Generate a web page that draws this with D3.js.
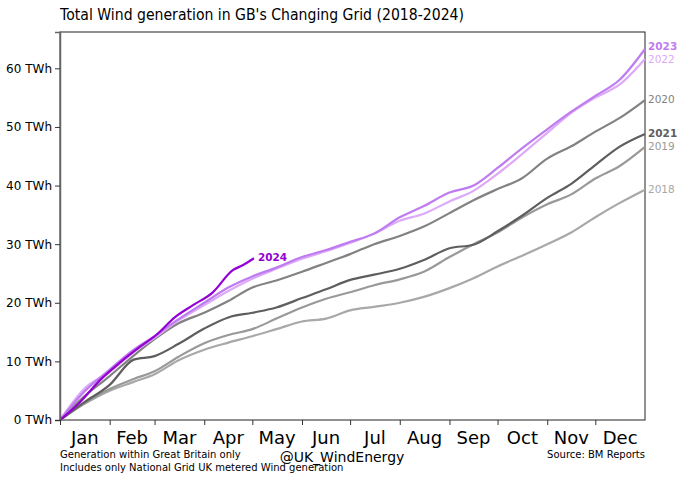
<!DOCTYPE html>
<html><head><meta charset="utf-8">
<script src="https://cdn.jsdelivr.net/npm/d3@7"></script>
<style>body{margin:0;background:#fff}svg{display:block}text{font-family:"DejaVu Sans",sans-serif}</style>
</head><body><svg id="c" width="680" height="479"></svg>
<script>
const months = ["Jan","Feb","Mar","Apr","May","Jun","Jul","Aug","Sep","Oct","Nov","Dec"];
const monthStarts = [0,31,59,90,120,151,181,212,243,273,304,334,365];
const yTicks = [0,10,20,30,40,50,60];
const days = [0,15,31,46,59,74,90,105,120,135,151,166,181,196,212,227,243,258,273,288,304,319,334,349,365];
const y2018 = [0,2.7,5.0,6.5,7.8,10.2,12.0,13.2,14.3,15.5,16.8,17.3,18.7,19.3,20.0,21.0,22.5,24.2,26.2,28.0,30.0,32.0,34.6,37.0,39.3];
const y2019 = [0,2.8,5.3,7.0,8.3,10.8,13.1,14.5,15.5,17.3,19.2,20.7,21.8,23.0,24.0,25.3,27.8,30.0,32.0,34.5,36.8,38.5,41.2,43.3,46.6];
const y2020 = [0,4.0,7.5,11.0,13.8,16.5,18.3,20.3,22.6,23.8,25.3,26.8,28.3,30.0,31.4,33.0,35.3,37.5,39.4,41.2,44.6,46.7,49.2,51.5,54.6];
const y2021 = [0,3.0,6.0,10.3,10.9,13.0,15.6,17.5,18.3,19.2,20.8,22.3,23.9,24.8,25.8,27.3,29.3,29.9,32.2,34.8,37.9,40.3,43.5,46.6,48.8];
const y2022 = [0,5.3,8.2,11.6,14.0,17.0,19.6,22.0,24.1,25.8,27.5,28.8,30.2,31.8,34.0,35.2,37.3,39.1,42.0,45.3,49.0,52.4,55.0,57.2,61.6];
const y2023 = [0,4.8,8.6,12.0,14.3,17.2,20.0,22.6,24.5,26.0,27.8,29.0,30.4,31.8,34.6,36.5,38.8,40.0,43.0,46.3,49.6,52.6,55.3,58.0,63.3];
const days2024 = [0,12,25,37,50,60,72,83,95,108,114,121];
const y2024 = [0,2.9,6.8,9.7,12.5,14.5,17.6,19.6,21.7,25.6,26.4,27.6];

const series = [
  {name:"2018", d:days, v:y2018, color:"#a8a8a8", bold:false, dy:0},
  {name:"2019", d:days, v:y2019, color:"#999999", bold:false, dy:0},
  {name:"2020", d:days, v:y2020, color:"#828282", bold:false, dy:0},
  {name:"2021", d:days, v:y2021, color:"#5e5e5e", bold:true, dy:0},
  {name:"2022", d:days, v:y2022, color:"#dcaaf8", bold:false, dy:1.5},
  {name:"2023", d:days, v:y2023, color:"#bf7cf0", bold:true, dy:-1.5},
  {name:"2024", d:days2024, v:y2024, color:"#9400d3", bold:true, dy:0}
];

const svg = d3.select("#c");
const m = {l:60, r:645, t:32, b:420};
const x = d3.scaleLinear().domain([0,365]).range([m.l,m.r]);
const y = d3.scaleLinear().domain([0,66.2]).range([m.b,m.t]);

svg.append("rect").attr("x",m.l).attr("y",m.t).attr("width",m.r-m.l).attr("height",m.b-m.t)
  .attr("fill","none").attr("stroke","#222").attr("stroke-width",1);

const line = d3.line().x(d=>x(d[0])).y(d=>y(d[1])).curve(d3.curveMonotoneX);
series.forEach(s=>{
  const pts = s.d.map((dd,i)=>[dd,s.v[i]]);
  svg.append("path").datum(pts).attr("d",line).attr("fill","none")
    .attr("stroke",s.color).attr("stroke-width",2.2).attr("stroke-linejoin","round");
});

series.forEach(s=>{
  const last = s.v[s.v.length-1], lastD = s.d[s.d.length-1];
  const isRight = s.name!=="2024";
  svg.append("text").attr("x", isRight ? 648 : x(lastD)+4).attr("y", y(last)+s.dy)
    .attr("dominant-baseline","middle").attr("font-size",10.5)
    .attr("font-weight", s.bold ? "bold" : "normal").attr("fill", s.color)
    .text(s.name);
});

const yAxis = d3.axisLeft(y).tickValues(yTicks).tickFormat(d=>d+" TWh").tickSize(5).tickPadding(3);
const gy = svg.append("g").attr("transform",`translate(${m.l},0)`).call(yAxis);
gy.select(".domain").attr("stroke","#666").attr("stroke-width",1.5);
gy.selectAll("text").attr("font-size",12).attr("fill","#000").style("font-family","DejaVu Sans");
gy.selectAll(".tick line").attr("stroke","#333");

const xAxis = d3.axisBottom(x).tickValues(monthStarts.slice(0,12)).tickFormat("").tickSize(5);
const gx = svg.append("g").attr("transform",`translate(0,${m.b})`).call(xAxis);
gx.select(".domain").remove();
gx.selectAll(".tick line").attr("stroke","#333");
months.forEach((mo,i)=>{
  svg.append("text").attr("x", x((monthStarts[i]+monthStarts[i+1])/2)).attr("y",444)
    .attr("text-anchor","middle").attr("font-size",18).attr("fill","#000").text(mo);
});

svg.append("text").attr("x",60).attr("y",20).attr("font-size",15).attr("fill","#000")
  .attr("textLength",404).attr("lengthAdjust","spacingAndGlyphs")
  .text("Total Wind generation in GB's Changing Grid (2018-2024)");
svg.append("text").attr("x",60).attr("y",458).attr("font-size",10).attr("fill","#000")
  .text("Generation within Great Britain only");
svg.append("text").attr("x",60).attr("y",471).attr("font-size",10).attr("fill","#000")
  .text("Includes only National Grid UK metered Wind generation");
svg.append("text").attr("x",342).attr("y",462).attr("text-anchor","middle").attr("font-size",14).attr("fill","#000")
  .text("@UK_WindEnergy");
svg.append("text").attr("x",645).attr("y",458).attr("text-anchor","end").attr("font-size",10).attr("fill","#000")
  .text("Source: BM Reports");
</script></body></html>
